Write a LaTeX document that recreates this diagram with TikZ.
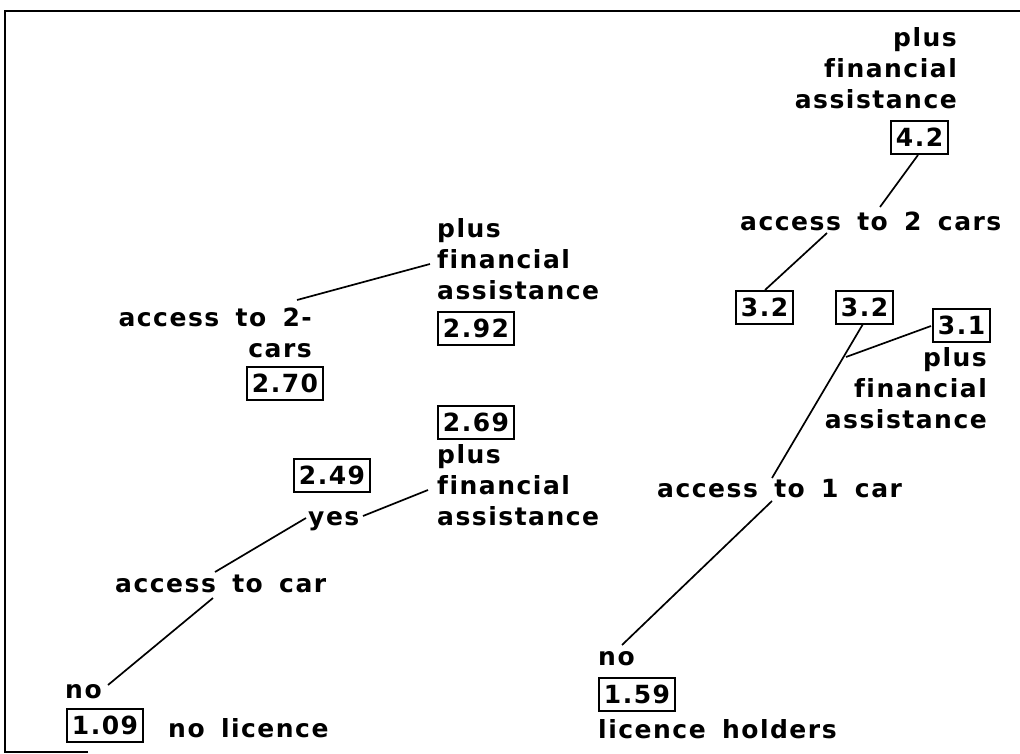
\documentclass[tikz,border=0pt]{standalone}
\usepackage{fontspec}
\setmainfont{DejaVu Sans}[LetterSpace=6, WordSpace=1.6, Ligatures=NoCommon]
\begin{document}
\begin{tikzpicture}[x=1pt,y=-1pt,
  lbl/.style={font=\fontsize{25}{31}\selectfont\bfseries, inner sep=0pt},
  val/.style={draw, line width=1.8pt, font=\fontsize{25}{31}\selectfont\bfseries,
              inner xsep=5pt, inner ysep=0pt, minimum height=33pt},
  conn/.style={line width=1.7pt}]
\useasboundingbox (0,0) rectangle (1020,754);
% frame
\draw[line width=1.8pt] (88,752) -- (5,752) -- (5,11) -- (1020,11);
% left tree
\node[lbl, align=left, anchor=north west] (pfa1) at (437,218) {plus\\financial\\assistance};
\node[val, anchor=north west] (v292) at (437,311) {2.92};
\node[lbl, align=right, anchor=north east] (acc2l) at (312,308) {access to 2-\\cars};
\node[val, anchor=north west] (v270) at (246,366) {2.70};
\node[val, anchor=north west] (v269) at (437,405) {2.69};
\node[lbl, align=left, anchor=north west] (pfa2) at (437,444) {plus\\financial\\assistance};
\node[val, anchor=north west] (v249) at (293,458) {2.49};
\node[lbl, anchor=base west] (yes) at (308,525) {yes};
\node[lbl, anchor=base west] (acc) at (115,592) {access to car};
\node[lbl, anchor=base west] (no1) at (65,698) {no};
\node[val, anchor=north west] (v109) at (66,708) {1.09};
\node[lbl, anchor=base west] (nolic) at (168,737) {no licence};
% right tree
\node[lbl, align=right, anchor=north east] (pfa3) at (957,27) {plus\\financial\\assistance};
\node[val, anchor=north west] (v42) at (890,120) {4.2};
\node[lbl, anchor=base west] (acc2r) at (740,230) {access to 2 cars};
\node[val, anchor=north west] (v32a) at (735,290) {3.2};
\node[val, anchor=north west] (v32b) at (835,290) {3.2};
\node[val, anchor=north west] (v31) at (932,308) {3.1};
\node[lbl, align=right, anchor=north east] (pfa4) at (987,347) {plus\\financial\\assistance};
\node[lbl, anchor=base west] (acc1) at (657,497) {access to 1 car};
\node[lbl, anchor=base west] (no2) at (598,665) {no};
\node[val, anchor=north west] (v159) at (598,677) {1.59};
\node[lbl, anchor=base west] (lich) at (598,738) {licence holders};
% connector end points
\coordinate (a2top) at (297,300);
\coordinate (fin1) at (430,264);
\coordinate (yesR) at (363,516);
\coordinate (fin2) at (428,490);
\coordinate (yesL) at (306,518);
\coordinate (accT) at (215,572);
\coordinate (accB) at (213,598);
\coordinate (noT) at (108,685);
\coordinate (v42B) at (918,155);
\coordinate (a2rT) at (880,207);
\coordinate (a2rB) at (827,233);
\coordinate (v32aT) at (765,290);
\coordinate (v32bB) at (863,324);
\coordinate (a1T) at (772,478);
\coordinate (v31L) at (931,326);
\coordinate (junc) at (846,357);
\coordinate (a1B) at (772,501);
\coordinate (no2T) at (622,645);
% connectors
\draw[conn] (a2top) -- (fin1);
\draw[conn] (yesR) -- (fin2);
\draw[conn] (yesL) -- (accT);
\draw[conn] (accB) -- (noT);
\draw[conn] (v42B) -- (a2rT);
\draw[conn] (a2rB) -- (v32aT);
\draw[conn] (v32bB) -- (a1T);
\draw[conn] (v31L) -- (junc);
\draw[conn] (a1B) -- (no2T);
\end{tikzpicture}
\end{document}
